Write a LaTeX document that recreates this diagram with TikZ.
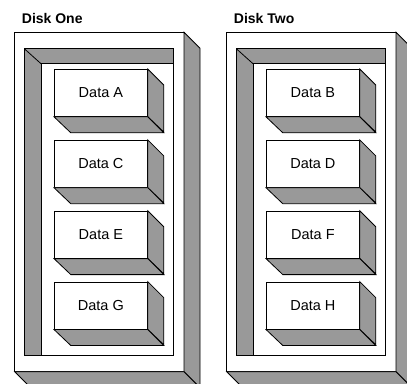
\documentclass[tikz,border=0pt]{standalone}
\usepackage{fontspec}
\setmainfont{Liberation Sans}
\begin{document}
\begin{tikzpicture}[x=1pt,y=-1pt,
  line join=miter,
  edge/.style={draw=black,line width=0.8pt},
  face/.style={edge,fill=shade},
  front/.style={edge,fill=white},
  databox/.style={front,anchor=north west,minimum width=93pt,minimum height=47pt,
    inner sep=0pt,font=\fontsize{14.5}{16}\selectfont},
  disklabel/.style={anchor=west,inner sep=0pt,font=\fontsize{14}{16}\selectfont\bfseries}]
\definecolor{shade}{gray}{0.6}
\useasboundingbox (0,0) rectangle (407,383);
\clip (0,0) rectangle (407,383);
\fill[white] (0,0) rectangle (407,383);
\foreach \dx/\dname/\a/\b/\c/\d in {0/One/A/C/E/G, 212/Two/B/D/F/H}{
  \begin{scope}[xshift=\dx pt]
    % disk title
    \node[disklabel] (disk\dname) at (21.7,18.7) {Disk \dname};
    % outer case: front face and its two extruded sides
    \coordinate (ctl\dname) at (14.7,32.3);
    \coordinate (cbr\dname) at (184,371.7);
    \draw[front] (ctl\dname) rectangle (cbr\dname);
    \draw[face] (184,32.3) -- ++(16,16) -- ++(0,339.4) -- (cbr\dname) -- cycle;
    \draw[face] (14.7,371.7) -- (cbr\dname) -- ++(16,16) -- (30.7,387.7) -- cycle;
    % recessed tray with bevelled top and left walls
    \draw[face] (24.3,48.7) rectangle (173.3,355.7);
    \draw[front] (41,63.7) rectangle (173.3,355.7);
    \draw[edge] (24.3,48.7) -- (41,63.7);
    % data blocks
    \foreach \lbl [count=\i from 0] in {\a,\b,\c,\d}{
      \node[databox] (data\lbl) at (54,69+70.9*\i) {Data \lbl};
      \draw[face] (data\lbl.north east) -- ++(16,16) -- ++(0,47) -- (data\lbl.south east) -- cycle;
      \draw[face] (data\lbl.south west) -- (data\lbl.south east) -- ++(16,16) -- ++(-93,0) -- cycle;
    }
  \end{scope}
}
\end{tikzpicture}
\end{document}
